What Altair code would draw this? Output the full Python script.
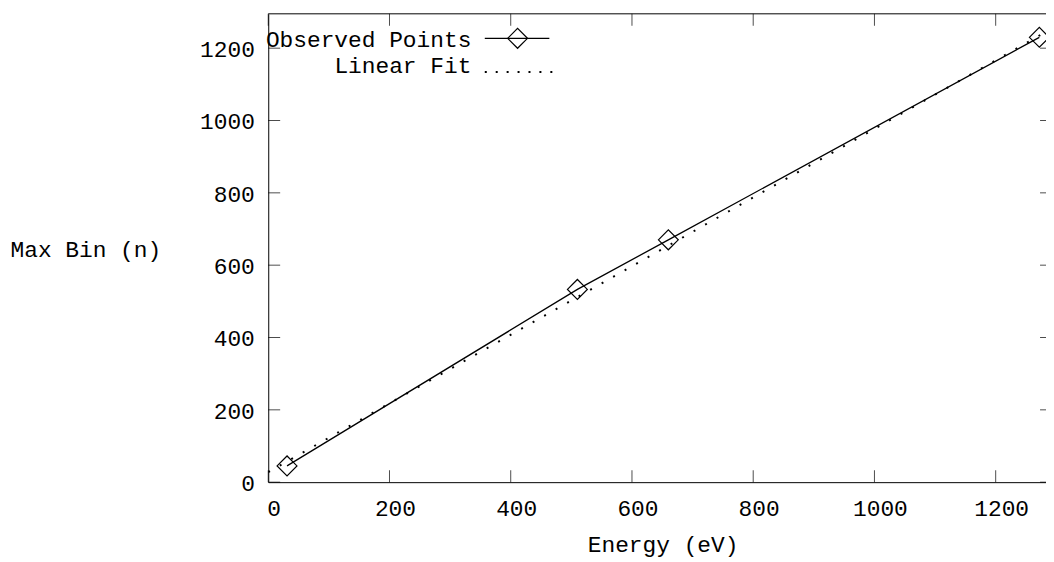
import altair as alt
import pandas as pd

# data
energy = [31, 510, 660, 1272]
max_bin = [45, 533, 670, 1230]
fit_energy = [0, 1290]
fit_bin = [28, 1252]
x_ticks = [0, 200, 400, 600, 800, 1000, 1200]
y_ticks = [0, 200, 400, 600, 800, 1000, 1200]
legend_labels = ["Observed Points", "Linear Fit"]

W, H = 783, 471.5
FONT = "Liberation Mono"
FS = 23

obs = pd.DataFrame({"energy": energy, "max_bin": max_bin})
fit = pd.DataFrame({"energy": fit_energy, "max_bin": fit_bin})
xt = pd.DataFrame({"energy": x_ticks})
yt = pd.DataFrame({"max_bin": y_ticks})
one = pd.DataFrame({"a": [0]})

xscale = alt.Scale(domain=[0, 1283], nice=False, zero=False)
yscale = alt.Scale(domain=[0, 1295], nice=False, zero=False)

xaxis = alt.Axis(
    values=x_ticks, format="d", title="Energy (eV)", ticks=False, tickSize=0, grid=False,
    domain=True, domainColor="black", domainWidth=1,
    labelFont=FONT, labelFontSize=FS, labelColor="black",
    labelBaseline="alphabetic", labelPadding=34, labelOffset=5.5, labelFlush=False,
    titleFont=FONT, titleFontSize=FS, titleFontWeight="normal", titleColor="black",
    titleX=397, titleY=69.5, titleBaseline="alphabetic", titleAlign="center",
)
yaxis = alt.Axis(
    values=y_ticks, format="d", title="Max Bin (n)", ticks=False, tickSize=0, grid=False,
    domain=True, domainColor="black", domainWidth=1,
    labelFont=FONT, labelFontSize=FS, labelColor="black",
    labelBaseline="alphabetic", labelPadding=14, labelOffset=8.3, labelFlush=False,
    titleFont=FONT, titleFontSize=FS, titleFontWeight="normal", titleColor="black",
    titleAngle=0, titleX=-260, titleY=244, titleAlign="left", titleBaseline="alphabetic",
)

X = alt.X("energy:Q", scale=xscale, axis=xaxis)
Y = alt.Y("max_bin:Q", scale=yscale, axis=yaxis)
Xs = alt.X("energy:Q", scale=xscale)
Ys = alt.Y("max_bin:Q", scale=yscale)

obs_line = alt.Chart(obs).mark_line(color="black", strokeWidth=1.3).encode(x=X, y=Y)
obs_pts = alt.Chart(obs).mark_point(shape="diamond", size=400, filled=False, color="black",
                                    strokeWidth=1.2, opacity=1).encode(x=Xs, y=Ys)
fit_line = alt.Chart(fit).mark_line(color="black", strokeWidth=2, strokeDash=[2, 11.3],
                                    clip=True).encode(x=Xs, y=Ys)

tick_b = alt.Chart(xt).mark_tick(orient="vertical", size=12, thickness=1, color="black").encode(
    x=Xs, y=alt.value(H - 6))
tick_t = alt.Chart(xt).mark_tick(orient="vertical", size=12, thickness=1, color="black").encode(
    x=Xs, y=alt.value(6))
tick_l = alt.Chart(yt).mark_tick(orient="horizontal", size=12, thickness=1, color="black").encode(
    y=Ys, x=alt.value(6))
tick_r = alt.Chart(yt).mark_tick(orient="horizontal", size=6, thickness=1, color="black").encode(
    y=Ys, x=alt.value(W - 3))

top_border = alt.Chart(one).mark_rule(color="black", strokeWidth=1).encode(
    x=alt.value(0), x2=alt.value(W), y=alt.value(0))

leg1_text = alt.Chart(one).mark_text(text=legend_labels[0], align="right", baseline="alphabetic",
                                     font=FONT, fontSize=FS, color="black").encode(
    x=alt.value(204.5), y=alt.value(33))
leg2_text = alt.Chart(one).mark_text(text=legend_labels[1], align="right", baseline="alphabetic",
                                     font=FONT, fontSize=FS, color="black").encode(
    x=alt.value(204.5), y=alt.value(59.7))
leg1_line = alt.Chart(one).mark_rule(color="black", strokeWidth=1.3).encode(
    x=alt.value(218), x2=alt.value(283), y=alt.value(24.7))
leg1_pt = alt.Chart(one).mark_point(shape="diamond", size=400, filled=False, color="black",
                                    strokeWidth=1.2, opacity=1).encode(
    x=alt.value(251), y=alt.value(24.7))
leg2_line = alt.Chart(one).mark_rule(color="black", strokeWidth=2, strokeDash=[2, 9]).encode(
    x=alt.value(218), x2=alt.value(287), y=alt.value(58.5))

chart = alt.layer(
    obs_line, fit_line, obs_pts, tick_b, tick_t, tick_l, tick_r, top_border,
    leg1_text, leg2_text, leg1_line, leg1_pt, leg2_line,
).properties(
    width=W, height=H,
    autosize=alt.AutoSizeParams(type="none"),
    padding={"left": 262, "top": 4, "right": 0, "bottom": 76},
    background="white",
).configure_view(stroke=None)

chart.save("out.html", embed_options={"renderer": "svg", "actions": False})
